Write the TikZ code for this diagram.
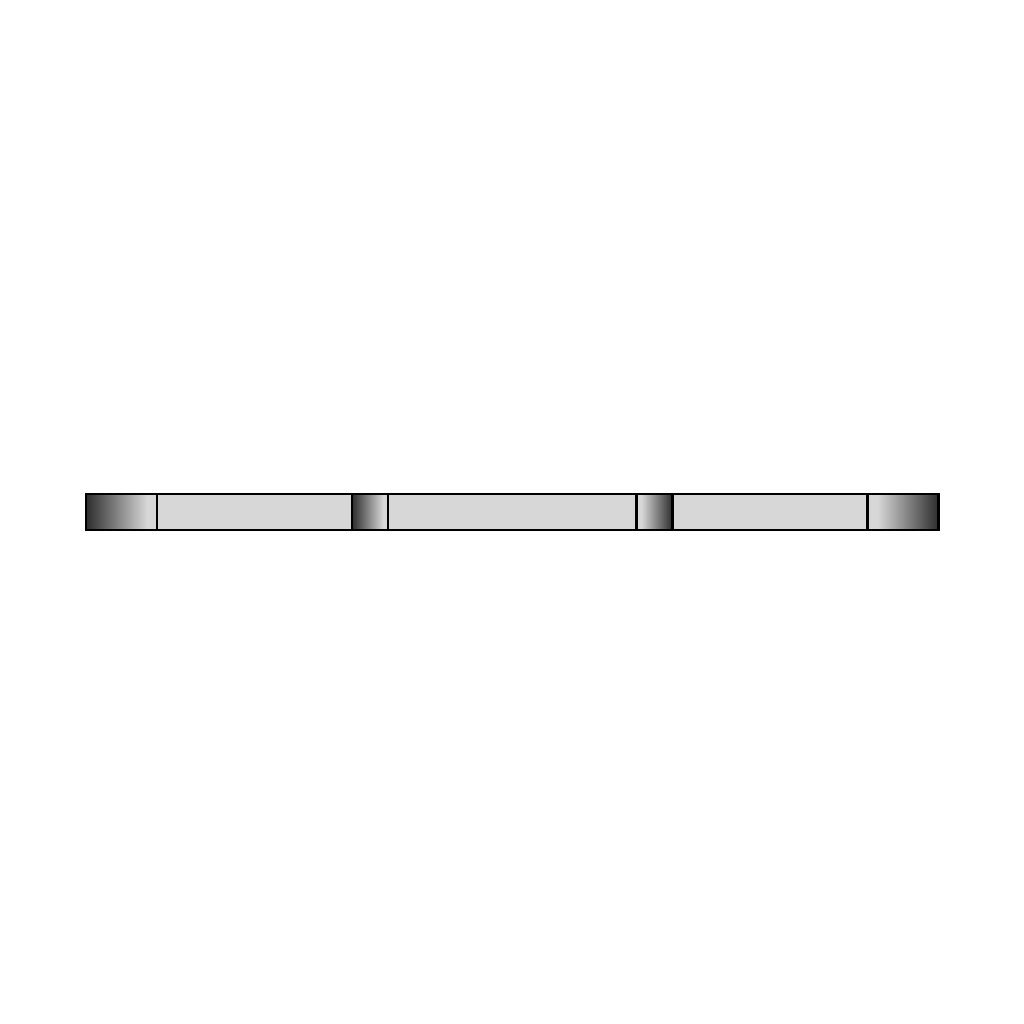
\documentclass[tikz,border=0pt]{standalone}
\usetikzlibrary{positioning}
\definecolor{barfill}{RGB}{215,215,215}
\definecolor{bardark}{RGB}{45,45,45}
\pgfdeclarehorizontalshading{fadeleft}{100bp}{color(0bp)=(bardark); color(25bp)=(bardark);
  color(68bp)=(barfill); color(100bp)=(barfill)}
\pgfdeclarehorizontalshading{faderight}{100bp}{color(0bp)=(barfill); color(32bp)=(barfill);
  color(75bp)=(bardark); color(100bp)=(bardark)}
\begin{document}
\begin{tikzpicture}[x=0.01cm,y=0.01cm,
    seg/.style={draw, line width=0.7pt, rectangle, inner sep=0pt, outer sep=0pt,
      minimum height=0.36cm, fill=barfill},
    darkleft/.style={seg, shading=fadeleft},
    darkright/.style={seg, shading=faderight}]
  \useasboundingbox (0,0) rectangle (1024,1024);
  % left end
  \node[darkleft, minimum width=0.71cm, anchor=west] at (86,512) (capL) {};
  \node[seg, minimum width=1.95cm, right=0pt of capL] (barA) {};
  % first joint
  \node[darkleft, minimum width=0.36cm, right=0pt of barA] (jointA) {};
  \node[seg, minimum width=2.48cm, right=0pt of jointA] (barB) {};
  % second joint
  \node[darkright, minimum width=0.36cm, right=0pt of barB] (jointB) {};
  \node[seg, minimum width=1.95cm, right=0pt of jointB] (barC) {};
  % right end
  \node[darkright, minimum width=0.71cm, right=0pt of barC] (capR) {};
\end{tikzpicture}
\end{document}
